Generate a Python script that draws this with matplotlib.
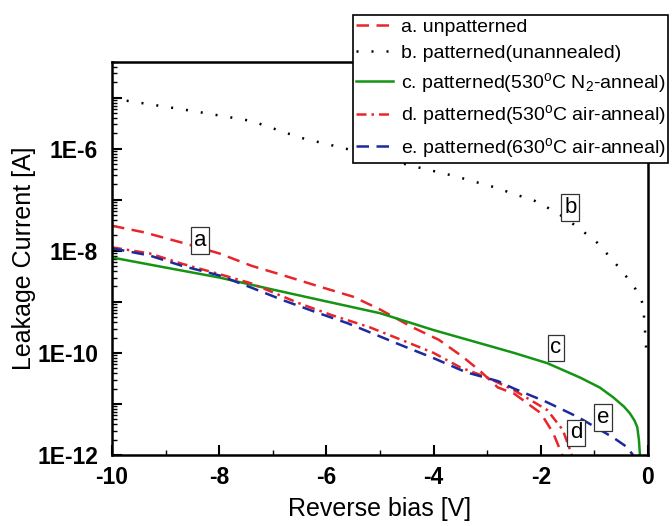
import numpy as np
import matplotlib
matplotlib.use("Agg")
import matplotlib.pyplot as plt
from matplotlib.ticker import LogLocator, FuncFormatter, MultipleLocator, NullFormatter

plt.rcParams['font.family'] = ['Liberation Sans', 'DejaVu Sans']
plt.rcParams['mathtext.fontset'] = 'custom'
plt.rcParams['mathtext.rm'] = 'Liberation Sans'
plt.rcParams['mathtext.it'] = 'Liberation Sans'

# a. unpatterned
v_a = [-10, -9.4, -8.7, -8, -7.4, -6.8, -6.2, -5.5, -5, -4.4, -3.9, -3.45, -3.13, -2.8, -2.5, -2.0, -1.77, -1.6]
i_a = [3.1e-8, 2.3e-8, 1.45e-8, 8.9e-9, 5.1e-9, 3.3e-9, 2.1e-9, 1.26e-9, 7.1e-10, 3.2e-10,
       1.8e-10, 8.3e-11, 4.4e-11, 2.1e-11, 1.6e-11, 6.6e-12, 2.7e-12, 1.0e-12]
# b. patterned (unannealed)
v_b = [-10, -9.9, -8.5, -7.4, -6.5, -5.6, -4.4, -3.6, -2.9, -2.11, -1.7, -1.31, -0.95,
       -0.62, -0.3, -0.15, -0.09, -0.06, -0.02]
i_b = [1.0e-5, 9.3e-6, 5.5e-6, 3.5e-6, 1.66e-6, 9.8e-7, 4.6e-7, 2.9e-7, 1.8e-7, 9.5e-8,
       5.6e-8, 2.9e-8, 1.45e-8, 5.9e-9, 2.3e-9, 1.3e-9, 8.5e-10, 3.2e-10, 7.2e-11]
# c. patterned (530C N2 anneal)
v_c = [-10, -9, -8, -7, -6, -5, -4, -3, -2.5, -1.88, -1.27, -0.9, -0.65, -0.45, -0.34,
       -0.25, -0.2, -0.17, -0.15]
i_c = [7.4e-9, 4.7e-9, 3.0e-9, 1.74e-9, 1.02e-9, 6.0e-10, 2.8e-10, 1.41e-10, 1.0e-10,
       6.3e-11, 3.3e-11, 2.1e-11, 1.35e-11, 8.9e-12, 6.6e-12, 4.7e-12, 3.5e-12, 2.0e-12, 1.0e-12]
# d. patterned (530C air anneal)
v_d = [-10, -9.3, -8.7, -8, -7.4, -6.5, -5.9, -5.2, -4.6, -4, -3.5, -3, -2.5, -1.88, -1.59, -1.42]
i_d = [1.17e-8, 8.9e-9, 5.6e-9, 3.5e-9, 2.3e-9, 9.3e-10, 5.5e-10, 3.2e-10, 1.8e-10, 1.0e-10,
       5.2e-11, 3.3e-11, 1.86e-11, 7.6e-12, 3.1e-12, 1.0e-12]
# e. patterned (630C air anneal)
v_e = [-10, -9.3, -8.7, -8, -7.4, -6.8, -6.2, -5.6, -5, -4.6, -4, -3.4, -2.8, -2.5, -1.9,
       -1.3, -0.65, -0.4, -0.28]
i_e = [1.12e-8, 8.1e-9, 5.1e-9, 3.3e-9, 1.9e-9, 1.07e-9, 6.3e-10, 3.8e-10, 2.1e-10, 1.41e-10,
       7.9e-11, 4.2e-11, 2.8e-11, 2.0e-11, 1.1e-11, 5.5e-12, 2.2e-12, 1.45e-12, 1.0e-12]

labels = ["a. unpatterned",
          "b. patterned(unannealed)",
          r"c. patterned(530$^{\rm o}$C N$_2$-anneal)",
          r"d. patterned(530$^{\rm o}$C air-anneal)",
          r"e. patterned(630$^{\rm o}$C air-anneal)"]
tags = ['a', 'b', 'c', 'd', 'e']
tag_x = [-8.36, -1.45, -1.72, -1.34, -0.84]
tag_y = [1.6e-8, 7.1e-8, 1.25e-10, 2.7e-12, 5.4e-12]

red = '#e8262a'
fig = plt.figure(figsize=(6.72, 5.26), dpi=100)
ax = fig.add_axes([112/672, 1-455/526, 536/672, 393/526])

la, = ax.plot(v_a, i_a, color=red, lw=1.8, ls=(0, (5, 3)))
lb, = ax.plot(v_b, i_b, color='black', lw=1.8, ls=(0, (0.8, 5.2)))
lc, = ax.plot(v_c, i_c, color='#149414', lw=1.8, ls='-')
ld, = ax.plot(v_d, i_d, color=red, lw=1.8, ls=(0, (4, 2, 1, 2)))
le, = ax.plot(v_e, i_e, color='#1c2a9c', lw=1.8, ls=(0, (5, 3)))

for t, x, y in zip(tags, tag_x, tag_y):
    ax.text(x, y, t, fontsize=16, ha='center', va='center',
            bbox=dict(boxstyle='square,pad=0.12', fc='white', ec='#333333', lw=0.9))

ax.set_yscale('log')
ax.set_xlim(-10, 0)
ax.set_ylim(1e-12, 5e-5)
ax.xaxis.set_major_locator(MultipleLocator(2))
ax.xaxis.set_minor_locator(MultipleLocator(1))
ax.xaxis.set_major_formatter(FuncFormatter(lambda v, pos: '%d' % v))
ax.yaxis.set_major_locator(LogLocator(base=10, numticks=20))
ax.yaxis.set_minor_locator(LogLocator(base=10, subs=np.arange(2, 10), numticks=20))
ax.yaxis.set_minor_formatter(NullFormatter())

def fmt(v, pos):
    e = int(round(np.log10(v)))
    return '1E%d' % e if e % 2 == 0 else ''

ax.yaxis.set_major_formatter(FuncFormatter(fmt))
ax.tick_params(which='both', direction='in', top=False, right=False, width=1.5)
ax.tick_params(which='major', length=7, labelsize=16.5)
ax.tick_params(axis='x', which='major', pad=8)
ax.tick_params(axis='y', which='major', pad=10)
ax.tick_params(which='minor', length=3.5, width=1.0)
for s in ax.spines.values():
    s.set_linewidth(1.8)
for t in ax.get_xticklabels() + ax.get_yticklabels():
    t.set_fontweight('bold')

ax.set_xlabel("Reverse bias [V]", fontsize=18, labelpad=6)
ax.set_ylabel("Leakage Current [A]", fontsize=18, labelpad=1)

leg = fig.legend([la, lb, lc, ld, le], labels, loc='upper left',
                 bbox_to_anchor=(353/672, 1-15/526), fontsize=14, frameon=True,
                 fancybox=False, framealpha=1, edgecolor='black', borderpad=0.15,
                 handlelength=1.9, handletextpad=0.4, labelspacing=0.45, borderaxespad=0)
leg.get_frame().set_linewidth(1.2)

fig.savefig('out.png', dpi=100)
